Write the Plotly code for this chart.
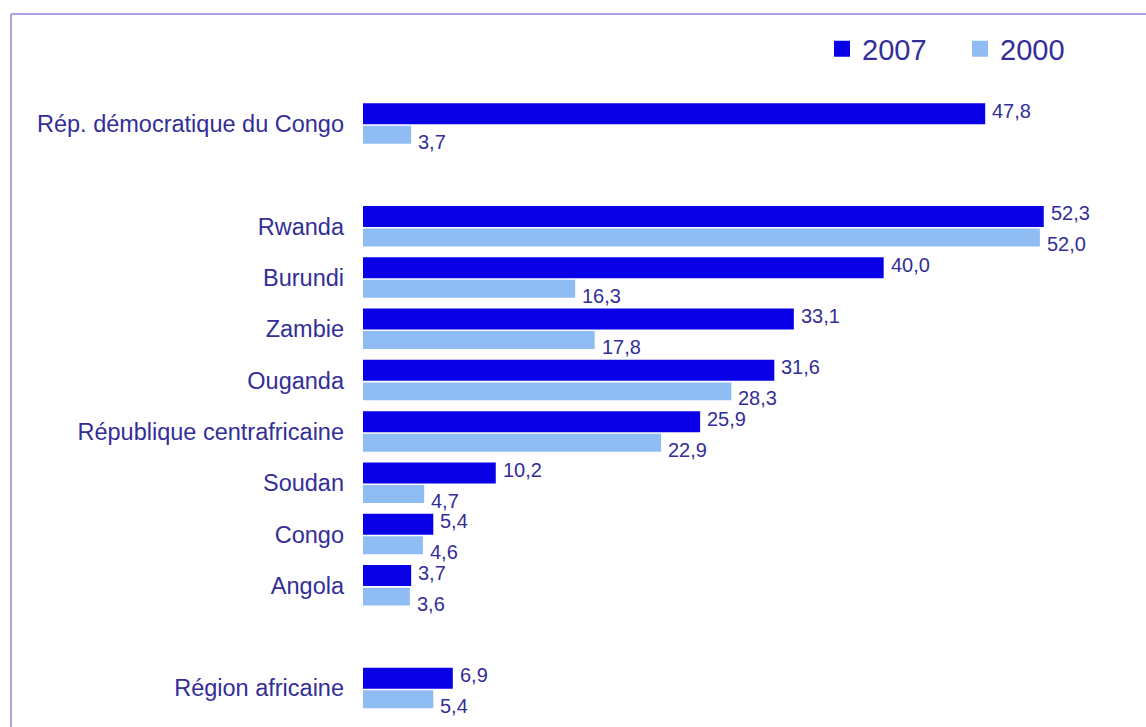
import plotly.graph_objects as go

# Countries, top to bottom; None marks an empty row used as a spacer
categories = [
    "Rép. démocratique du Congo",
    None,
    "Rwanda",
    "Burundi",
    "Zambie",
    "Ouganda",
    "République centrafricaine",
    "Soudan",
    "Congo",
    "Angola",
    None,
    "Région africaine",
]
values_2007 = [47.8, None, 52.3, 40.0, 33.1, 31.6, 25.9, 10.2, 5.4, 3.7, None, 6.9]
values_2000 = [3.7, None, 52.0, 16.3, 17.8, 28.3, 22.9, 4.7, 4.6, 3.6, None, 5.4]
series_names = ["2007", "2000"]

DARK = "#0a00e8"
LIGHT = "#8fbcf3"
TEXT = "#332e98"
FRAME = "#a9a3e3"

rows = [i for i, c in enumerate(categories) if c is not None]
labels = [categories[i] for i in rows]
v07 = [values_2007[i] for i in rows]
v00 = [values_2000[i] for i in rows]

fig = go.Figure()
fig.add_trace(go.Bar(
    y=rows, x=v07, orientation="h", name=series_names[0],
    marker=dict(color=DARK, line=dict(width=0)),
    offset=-0.40, width=0.41, showlegend=False,
))
fig.add_trace(go.Bar(
    y=rows, x=v00, orientation="h", name=series_names[1],
    marker=dict(color=LIGHT, line=dict(width=0)),
    offset=0.04, width=0.35, showlegend=False,
))

# Legend entries with larger square swatches
for name, col in zip(series_names, [DARK, LIGHT]):
    fig.add_trace(go.Scatter(
        x=[None], y=[None], mode="markers", name=name,
        marker=dict(symbol="square", size=20, color=col),
    ))


def fmt(v):
    return f"{v:.1f}".replace(".", ",")


annotations = []
for r, a, b in zip(rows, v07, v00):
    annotations.append(dict(
        x=a, y=r - 0.195, xref="x", yref="y", text=fmt(a), showarrow=False,
        xanchor="left", yanchor="middle", xshift=5, yshift=3,
        font=dict(family="Liberation Sans, Arial", size=20, color=TEXT),
    ))
    annotations.append(dict(
        x=b, y=r + 0.215, xref="x", yref="y", text=fmt(b), showarrow=False,
        xanchor="left", yanchor="middle", xshift=5, yshift=-7,
        font=dict(family="Liberation Sans, Arial", size=20, color=TEXT),
    ))

W, H = 1146, 727
ML, MR, MT, MB = 363, 2, 93, 8
pw, ph = W - ML - MR, H - MT - MB


def px_to_paper_x(px):
    return (px - ML) / pw


def px_to_paper_y(py):
    return (H - MB - py) / ph


shapes = [
    dict(type="line", xref="paper", yref="paper",
         x0=px_to_paper_x(11), x1=px_to_paper_x(1160),
         y0=px_to_paper_y(14), y1=px_to_paper_y(14),
         line=dict(color=FRAME, width=2)),
    dict(type="line", xref="paper", yref="paper",
         x0=px_to_paper_x(11), x1=px_to_paper_x(11),
         y0=px_to_paper_y(14), y1=px_to_paper_y(740),
         line=dict(color=FRAME, width=2)),
]

fig.update_layout(
    width=W, height=H,
    margin=dict(l=ML, r=MR, t=MT, b=MB, autoexpand=False),
    paper_bgcolor="white", plot_bgcolor="white",
    barmode="overlay",
    font=dict(family="Liberation Sans, Arial", color=TEXT),
    xaxis=dict(range=[0, 60], visible=False, showgrid=False, zeroline=False),
    yaxis=dict(
        range=[11.6, -0.6], tickmode="array", tickvals=rows, ticktext=labels,
        showgrid=False, zeroline=False, showline=False, ticks="",
        ticklabelstandoff=18,
        tickfont=dict(family="Liberation Sans, Arial", size=23.5, color=TEXT),
    ),
    legend=dict(
        orientation="h", x=px_to_paper_x(822), y=px_to_paper_y(49),
        xanchor="left", yanchor="middle",
        font=dict(family="Liberation Sans, Arial", size=29, color=TEXT),
        bgcolor="rgba(0,0,0,0)", itemclick=False, itemdoubleclick=False,
        entrywidth=93, entrywidthmode="pixels",
    ),
    annotations=annotations,
    shapes=shapes,
)

fig.write_html("out.html", config={"displayModeBar": False})
